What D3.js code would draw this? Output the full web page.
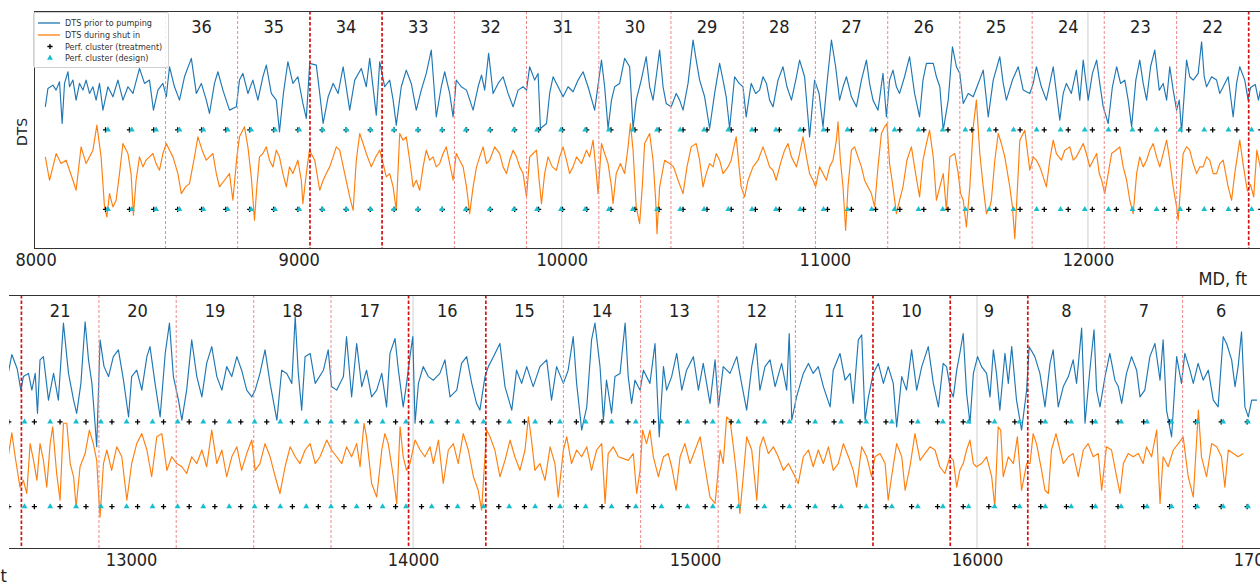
<!DOCTYPE html>
<html><head><meta charset="utf-8">
<script src="https://cdn.jsdelivr.net/npm/d3@7"></script>
<style>body{margin:0;background:#fff}svg{display:block}</style>
</head><body>
<svg id="c" width="1260" height="584"></svg>
<script>
// ---------------- DATA (depth in ft, DTS in arbitrary relative units) ----------------
const dtsPriorToPumping = [
[8037,423],[8047,478],[8066,488],[8078,473],[8091,498],[8101,373],[8110,493],[8123,528],[8129,483],[8142,503],[8154,443],[8167,493],[8180,473],[8192,503],[8205,463],[8218,483],[8230,443],[8243,493],[8256,413],[8275,483],[8294,453],[8313,503],[8332,443],[8351,483],[8370,463],[8395,538],[8414,493],[8433,503],[8448,413],[8465,473],[8484,493],[8497,453],[8509,543],[8528,483],[8547,443],[8566,513],[8592,568],[8611,463],[8630,493],[8649,443],[8661,403],[8680,493],[8693,528],[8712,473],[8737,413],[8763,423],[8775,503],[8788,523],[8807,463],[8826,503],[8845,443],[8864,513],[8877,548],[8896,463],[8915,443],[8927,348],[8942,463],[8959,558],[8978,493],[8997,513],[9016,433],[9029,388],
[9042,553],[9067,548],[9080,463],[9093,373],[9112,453],[9131,493],[9150,463],[9169,543],[9194,413],[9213,503],[9238,538],[9257,483],[9270,568],[9295,398],[9308,558],[9327,483],[9346,503],[9359,443],[9371,368],[9390,483],[9409,533],[9428,493],[9447,413],[9466,473],[9485,523],[9504,593],[9523,393],[9542,483],[9555,528],[9574,463],[9587,393],[9599,503],[9618,483],[9638,473],[9663,413],[9682,483],[9695,518],[9707,473],[9722,583],[9739,463],[9758,493],[9777,513],[9796,463],[9815,423],[9834,473],[9853,483],[9866,473],[9878,543],[9897,503],[9910,523],[9919,358],[9942,373],[9954,463],[9967,513],[9986,483],[10005,453],[10024,483],[10043,468],[10062,503],[10081,528],[10100,483],[10125,413],[10151,563],[10163,483],[10176,358],[10189,443],[10201,483],
[10220,493],[10239,568],[10258,543],[10271,358],[10283,443],[10302,503],[10321,573],[10334,483],[10347,443],[10359,513],[10372,593],[10385,483],[10397,433],[10416,423],[10435,463],[10448,443],[10461,413],[10480,493],[10499,623],[10511,563],[10524,503],[10543,453],[10562,358],[10581,463],[10600,553],[10613,503],[10625,453],[10638,358],[10657,513],[10674,493],[10689,483],[10701,393],[10720,493],[10737,463],[10752,473],[10765,513],[10778,493],[10790,443],[10803,423],[10822,503],[10841,543],[10856,483],[10873,443],[10892,513],[10904,563],[10923,513],[10942,333],[10961,503],[10978,463],[10993,363],[11008,493],[11025,623],[11041,543],[11056,443],[11069,483],[11082,513],[11101,453],[11120,423],[11139,503],[11158,563],[11170,493],[11183,443],[11202,413],[11221,523],[11234,393],[11246,503],[11259,533],[11272,483],[11284,463],[11303,513],[11322,573],[11341,463],[11360,393],[11373,503],[11386,553],
[11412,553],[11424,513],[11437,483],[11450,353],[11469,443],[11485,603],[11500,543],[11513,523],[11526,433],[11545,463],[11564,453],[11583,493],[11602,533],[11621,393],[11640,503],[11665,573],[11678,493],[11690,443],[11713,503],[11735,543],[11754,473],[11779,463],[11792,493],[11804,543],[11823,483],[11842,443],[11868,543],[11893,383],[11906,463],[11918,493],[11937,463],[11956,533],[11969,443],[11982,563],[12001,443],[12017,523],[12033,563],[12045,493],[12058,423],[12077,373],[12093,483],[12109,543],[12124,493],[12140,503],[12153,443],[12166,363],[12182,503],[12197,563],[12210,493],[12223,443],[12238,543],[12254,593],[12271,473],[12286,493],[12299,443],[12311,543],[12324,473],[12337,413],[12347,443],[12356,348],[12375,563],[12387,513],[12400,503],[12419,523],[12432,618],[12442,513],[12451,483],[12470,513],[12489,503],[12501,463],[12514,483],[12533,513],[12552,393],[12565,493],[12577,543],[12596,503],
[12609,443],[12618,481],[12636,490],[12648,443],[12660,490],[12668,378],[12677,528],[12689,537],[12707,415],[12725,490],[12742,415],[12760,631],[12778,490],[12796,415],[12807,378],[12822,462],[12837,635],[12849,528],[12861,462],[12872,350],[12878,284],[12890,584],[12904,509],[12920,481],[12937,537],[12955,556],[12973,471],[12991,368],[13002,481],[13020,499],[13038,443],[13056,537],[13067,565],[13085,462],[13103,368],[13121,546],[13136,631],[13150,481],[13168,415],[13180,359],[13197,443],[13215,584],[13233,481],[13251,424],[13268,518],[13286,565],[13304,481],[13322,443],[13339,509],[13357,481],[13375,537],[13392,499],[13410,443],[13428,424],[13440,443],[13457,490],[13475,556],[13493,462],[13517,359],[13534,499],[13552,490],[13570,462],[13582,649],[13593,490],[13605,387],[13617,537],[13635,546],[13653,462],
[13682,499],[13699,556],[13711,453],[13729,443],[13753,481],[13764,593],[13782,424],[13800,574],[13818,453],[13835,499],[13853,424],[13871,443],[13889,490],[13906,396],[13918,546],[13936,588],[13948,499],[13965,396],[13977,462],[13989,537],[13999,593],[14007,350],[14019,462],[14036,509],[14054,481],[14072,471],[14095,490],[14113,528],[14131,424],[14155,443],[14172,518],[14190,537],[14208,462],[14225,406],[14237,387],[14255,481],[14267,509],[14285,537],[14308,574],[14326,453],[14350,387],[14367,499],[14385,462],[14403,509],[14426,453],[14450,509],[14474,528],[14491,415],[14509,509],[14533,462],[14550,499],[14568,593],[14580,462],[14598,331],[14616,396],[14633,584],[14645,631],[14663,509],[14675,359],[14686,471],[14704,378],[14716,481],[14734,490],
[14752,631],[14763,481],[14775,406],[14787,471],[14805,443],[14817,499],[14840,462],[14858,574],[14873,312],[14888,509],[14899,443],[14917,481],[14935,546],[14953,443],[14970,499],[14994,537],[15012,443],[15029,518],[15053,406],[15071,528],[15083,396],[15100,509],[15124,490],[15148,537],[15165,462],[15183,387],[15201,509],[15216,574],[15230,443],[15248,509],[15266,528],[15284,453],[15307,518],[15325,443],[15334,602],[15343,359],[15360,424],[15384,490],[15402,518],[15419,490],[15437,509],[15455,453],[15479,396],[15490,499],[15514,546],[15532,471],[15550,490],[15561,406],[15579,584],[15591,598],[15603,359],[15615,424],[15632,490],[15650,518],[15668,462],[15685,509],[15703,462],[15715,340],[15733,481],[15750,443],[15768,556],[15786,443],[15804,509],[15827,565],[15845,462],
[15863,396],[15880,518],[15892,509],[15906,443],[15916,424],[15928,499],[15939,546],[15951,602],[15963,434],[15975,350],[15987,490],[16002,537],[16016,509],[16034,490],[16046,424],[16058,556],[16069,490],[16081,387],[16099,546],[16111,462],[16123,565],[16140,415],[16158,331],[16176,443],[16185,565],[16205,537],[16223,490],[16241,396],[16259,518],[16270,556],[16288,396],[16306,453],[16324,481],[16341,528],[16353,462],[16371,617],[16383,350],[16400,499],[16415,612],[16424,443],[16436,396],[16454,481],[16471,546],[16489,471],[16501,453],[16513,406],[16530,490],[16548,537],[16566,499],[16578,424],[16595,443],[16613,537],[16631,574],[16649,471],[16660,584],[16672,387],[16690,312],[16708,537],[16725,462],[16737,546],[16755,499],[16767,462],[16784,518],[16802,471],[16820,499],[16838,415],[16855,396],[16873,593],[16885,574],[16903,528],[16915,453],[16926,509],[16938,607],[16950,396],[16962,368],[16974,415],[16993,415]
];

const dtsDuringShutIn = [
[8037,273],[8053,203],[8066,243],[8078,283],[8097,253],[8116,263],[8129,233],[8142,203],[8154,173],[8173,303],[8192,253],[8205,273],[8218,293],[8233,368],[8249,273],[8262,123],[8271,93],[8281,163],[8294,123],[8306,143],[8319,223],[8332,313],[8351,283],[8363,223],[8372,98],[8382,203],[8395,273],[8408,243],[8420,263],[8433,273],[8446,283],[8458,253],[8471,233],[8484,283],[8497,313],[8509,293],[8522,273],[8541,223],[8554,163],[8570,183],[8585,193],[8604,273],[8617,333],[8633,293],[8649,263],[8661,273],[8674,283],[8687,223],[8699,183],[8718,203],[8737,223],[8750,143],[8765,273],[8775,333],[8794,363],[8807,303],[8820,213],[8832,83],[8841,183],[8851,273],[8864,283],[8877,303],[8889,263],[8902,243],[8915,293],[8927,273],[8940,223],[8953,183],[8965,243],[8978,223],[8997,263],[9010,203],[9016,133],[9029,223],[9041,293],
[9061,263],[9080,173],[9093,203],[9105,223],[9118,243],[9131,273],[9143,303],[9156,293],[9175,223],[9194,153],[9207,113],[9219,263],[9232,343],[9245,313],[9257,283],[9276,243],[9293,273],[9308,293],[9321,253],[9333,213],[9346,223],[9359,183],[9371,113],[9384,343],[9397,323],[9409,333],[9422,263],[9435,183],[9447,203],[9460,173],[9473,243],[9485,293],[9498,263],[9511,273],[9523,243],[9536,253],[9549,283],[9561,303],[9574,253],[9587,203],[9599,283],[9612,263],[9625,243],[9638,183],[9650,103],[9663,183],[9676,243],[9688,273],[9701,303],[9714,253],[9726,263],[9745,303],[9764,283],[9777,243],[9790,223],[9802,263],[9815,293],[9828,273],[9840,243],[9853,223],[9866,153],[9878,273],[9891,283],[9904,293],[9914,203],[9923,133],[9935,223],[9948,273],[9964,243],[9980,233],[9992,273],[10005,303],[10018,263],[10030,223],[10043,243],[10056,273],[10075,253],[10094,293],[10106,273],[10119,323],[10129,243],[10138,163],[10151,313],[10163,283],[10176,253],[10189,183],[10195,133],
[10207,223],[10223,253],[10239,223],[10252,303],[10261,373],[10271,293],[10283,123],[10296,73],[10306,183],[10315,313],[10334,343],[10347,263],[10357,143],[10362,43],[10372,183],[10391,263],[10410,253],[10425,243],[10442,203],[10461,163],[10476,243],[10492,303],[10511,313],[10524,263],[10537,183],[10549,223],[10562,253],[10575,243],[10587,283],[10600,263],[10613,223],[10632,243],[10644,263],[10657,313],[10663,333],[10674,243],[10682,183],[10695,153],[10708,203],[10727,243],[10746,263],[10765,303],[10778,273],[10790,243],[10803,233],[10815,203],[10831,253],[10847,293],[10860,313],[10873,273],[10892,243],[10904,283],[10917,333],[10930,273],[10942,223],[10955,203],[10965,183],[10980,243],[10993,223],[11006,203],[11018,243],[11031,263],[11044,323],[11050,378],[11059,263],[11069,183],[11079,53],[11088,183],[11101,293],[11113,303],[11126,273],[11139,243],[11151,203],[11164,183],[11177,163],[11189,123],[11202,243],[11215,343],[11227,363],[11236,373],[11246,253],[11259,183],[11272,103],[11284,143],[11297,183],[11312,263],[11329,303],[11345,223],[11360,153],[11373,263],[11386,313],[11398,353],
[11412,273],[11424,143],[11437,183],[11450,223],[11462,113],[11475,273],[11494,283],[11507,223],[11516,163],[11526,143],[11538,63],[11551,183],[11564,363],[11576,443],[11589,283],[11602,183],[11614,103],[11627,123],[11633,143],[11646,263],[11659,343],[11671,313],[11684,273],[11703,183],[11713,123],[11722,28],[11731,163],[11741,323],[11760,353],[11779,233],[11792,273],[11804,263],[11817,243],[11830,213],[11842,183],[11855,263],[11868,323],[11880,283],[11899,263],[11912,293],[11931,303],[11944,263],[11956,273],[11969,293],[11982,313],[11994,283],[12007,243],[12020,263],[12033,283],[12043,223],[12052,203],[12064,163],[12077,223],[12090,283],[12106,293],[12121,303],[12134,243],[12147,203],[12159,143],[12172,103],[12185,223],[12197,273],[12210,243],[12223,263],[12235,293],[12248,313],[12261,273],[12273,243],[12286,283],[12299,323],[12311,263],[12324,183],[12337,123],[12343,83],[12352,183],[12362,283],[12375,303],[12387,293],[12400,253],[12413,223],[12425,243],[12438,243],[12451,273],[12463,263],[12476,223],[12489,223],[12501,253],[12514,263],[12533,183],[12546,143],[12558,223],[12577,323],
[12589,256],[12600,200],[12606,171],[12618,190],[12630,153],[12642,293],[12654,246],[12666,190],[12677,293],[12689,246],[12701,171],[12713,293],[12722,340],[12736,209],[12748,134],[12760,350],[12772,350],[12784,237],[12796,200],[12805,115],[12819,228],[12837,265],[12852,331],[12866,293],[12878,246],[12884,162],[12890,87],[12902,237],[12914,275],[12931,218],[12949,284],[12967,256],[12985,134],[13002,237],[13020,293],[13038,321],[13056,275],[13073,200],[13091,312],[13109,321],[13127,218],[13144,256],[13162,237],[13180,228],[13197,209],[13215,256],[13233,237],[13251,275],[13268,228],[13286,331],[13304,237],[13322,275],[13339,200],[13357,256],[13375,284],[13392,218],[13410,265],[13428,303],[13440,218],[13457,237],[13475,293],[13493,256],[13511,200],[13528,153],[13546,228],[13564,284],[13582,256],[13599,237],[13617,275],[13635,293],[13653,237],[13670,256],
[13694,303],[13711,275],[13729,256],[13747,237],[13764,284],[13782,256],[13800,293],[13812,228],[13826,350],[13835,312],[13853,181],[13871,143],[13889,275],[13900,321],[13912,293],[13930,200],[13942,125],[13954,340],[13965,256],[13977,218],[13989,237],[14007,303],[14025,275],[14042,256],[14060,284],[14072,237],[14090,303],[14107,181],[14125,275],[14143,293],[14160,237],[14178,321],[14196,275],[14214,200],[14231,162],[14243,106],[14249,181],[14261,331],[14273,312],[14290,275],[14308,200],[14326,246],[14344,303],[14361,256],[14379,218],[14397,275],[14409,368],[14420,303],[14432,218],[14450,237],[14468,190],[14486,284],[14503,237],[14515,143],[14533,275],[14545,312],[14562,237],[14580,275],[14598,256],[14616,284],[14633,218],[14651,275],[14669,293],[14681,125],[14692,265],[14710,284],[14728,256],
[14763,246],[14781,265],[14793,153],[14805,218],[14814,331],[14828,293],[14840,331],[14852,256],[14870,200],[14888,256],[14905,265],[14917,228],[14933,162],[14947,256],[14964,293],[14982,237],[15000,275],[15018,312],[15035,228],[15053,143],[15071,125],[15089,275],[15100,237],[15112,368],[15124,359],[15136,284],[15148,200],[15159,97],[15171,200],[15183,312],[15201,275],[15219,134],[15230,284],[15242,312],[15260,265],[15278,284],[15295,256],[15313,218],[15331,237],[15349,209],[15366,181],[15384,256],[15402,275],[15419,228],[15437,275],[15455,237],[15473,284],[15490,218],[15508,237],[15526,293],[15544,256],[15561,218],[15573,171],[15591,284],[15609,256],[15626,200],[15638,256],[15656,265],[15674,237],[15685,134],[15697,200],[15715,293],[15733,256],[15745,162],[15762,228],[15780,321],[15798,246],[15815,265],[15833,284],
[15851,275],[15868,228],[15886,209],[15904,256],[15916,246],[15928,171],[15939,218],[15951,237],[15963,275],[15975,303],[15987,237],[15998,228],[16016,237],[16034,256],[16052,200],[16063,115],[16075,340],[16084,331],[16093,200],[16111,256],[16129,237],[16143,312],[16158,162],[16176,237],[16188,237],[16199,321],[16211,293],[16229,218],[16241,162],[16253,153],[16264,275],[16280,321],[16294,275],[16306,237],[16324,256],[16341,265],[16359,200],[16377,275],[16394,293],[16412,256],[16430,265],[16442,162],[16459,284],[16477,275],[16495,200],[16507,153],[16519,237],[16536,265],[16554,256],[16572,265],[16589,237],[16601,284],[16619,256],[16637,331],[16649,125],[16660,256],[16678,228],[16696,275],[16714,293],[16731,312],[16749,200],[16767,143],[16785,387],[16796,256],[16814,200],[16832,293],[16850,284],[16867,256],[16879,171],[16891,275],[16909,265],[16926,256],[16944,265]
];

// stage numbers and their shallow boundary depths (last entry = bottom of stage 6)
const stageNumbers = [36,35,34,33,32,31,30,29,28,27,26,25,24,23,22,21,20,19,18,17,16,15,14,13,12,11,10,9,8,7,6];
const stageBoundaries = [8494,8768,9043,9317,9592,9866,10141,10415,10690,10964,11239,11513,11788,12062,12337,12611,12886,13160,13435,13709,13984,14258,14533,14807,15082,15356,15631,15905,16180,16454,16729,17003];
const plugBoundaries = [9043,9317,12611,13984,14258,15631,15905,16180];

const clustersTreatment = [8266,8357,8449,8540,8631,8723,8814,8905,8997,9089,9180,9272,9363,9454,9546,9638,9729,9821,9912,10003,10095,10187,10278,10370,10461,10552,10644,10736,10827,10919,11010,11101,11193,11285,11376,11468,11559,11650,11742,11834,11925,12017,12108,12199,12291,12383,12474,12566,12657,12748,12840,12932,13023,13115,13206,13297,13389,13481,13572,13664,13755,13846,13938,14030,14121,14213,14304,14395,14487,14579,14670,14762,14853,14944,15036,15128,15219,15311,15402,15493,15585,15677,15768,15860,15951,16042,16134,16226,16317,16409,16500,16591,16683,16775,16866,16958];
const clustersDesign = [8275,8366,8458,8547,8638,8730,8819,8910,9002,9091,9182,9274,9362,9453,9545,9635,9726,9818,9906,9997,10089,10179,10270,10362,10450,10541,10633,10723,10814,10906,10995,11086,11178,11265,11356,11448,11534,11625,11717,11805,11896,11988,12078,12169,12261,12351,12442,12534,12622,12713,12805,12893,12984,13076,13165,13256,13348,13438,13529,13621,13709,13800,13892,13975,14066,14158,14250,14341,14433,14521,14612,14704,14790,14881,14973,15063,15154,15246,15335,15426,15518,15607,15698,15790,15879,15970,16062,16151,16242,16334,16420,16511,16603,16690,16781,16873,16961];
const clusterLevels = [354, 116];

const gridDepths = [10000, 12000, 14000, 16000];
const xTicks = [8000,9000,10000,11000,12000,13000,14000,15000,16000,17000];
const legendLabels = ["DTS prior to pumping","DTS during shut in","Perf. cluster (treatment)","Perf. cluster (design)"];

// ---------------- LAYOUT / STYLE ----------------
const C_BLUE = "#1f77b4", C_ORANGE = "#ff7f0e", C_CYAN = "#17becf";
const FONT = "'DejaVu Sans Condensed','DejaVu Sans',sans-serif";
const yDomain = [0, 710];
const panels = [
  { xDomain: [7994, 12692], x0: 34, x1: 1270, y0: 11, y1: 248, leftSpine: true },
  { xDomain: [12567, 17039], x0: 9, x1: 1270, y0: 295, y1: 548, leftSpine: false }
];

const svg = d3.select("#c");
const defs = svg.append("defs");
const plusPath = "M-2.6,0H2.6M0,-2.6V2.6";
const triSym = d3.symbol(d3.symbolTriangle, 15)();

panels.forEach((p, i) => {
  const x = d3.scaleLinear().domain(p.xDomain).range([p.x0, p.x1]);
  const y = d3.scaleLinear().domain(yDomain).range([p.y1, p.y0]);
  const inDom = d => d >= p.xDomain[0] && d <= p.xDomain[1];
  defs.append("clipPath").attr("id", "clip" + i).append("rect")
    .attr("x", p.x0).attr("y", p.y0).attr("width", p.x1 - p.x0).attr("height", p.y1 - p.y0);
  const g = svg.append("g");
  const plot = g.append("g").attr("clip-path", `url(#clip${i})`);

  plot.selectAll("line.grid").data(gridDepths.filter(inDom)).join("line")
    .attr("x1", d => x(d)).attr("x2", d => x(d)).attr("y1", p.y0).attr("y2", p.y1)
    .attr("stroke", "#cfcfcf").attr("stroke-width", 1);

  const line = d3.line().x(d => x(d[0])).y(d => y(d[1]));
  plot.append("path").datum(dtsPriorToPumping).attr("d", line)
    .attr("fill", "none").attr("stroke", C_BLUE).attr("stroke-width", 1.15).attr("stroke-linejoin", "round");
  plot.append("path").datum(dtsDuringShutIn).attr("d", line)
    .attr("fill", "none").attr("stroke", C_ORANGE).attr("stroke-width", 1.15).attr("stroke-linejoin", "round");

  const bounds = stageBoundaries.slice(0, -1).filter(inDom);
  plot.selectAll("line.stage").data(bounds).join("line")
    .attr("x1", d => x(d)).attr("x2", d => x(d)).attr("y1", p.y0).attr("y2", p.y1)
    .attr("stroke", d => plugBoundaries.includes(d) ? "#d41414" : "#ee8a8a")
    .attr("stroke-width", d => plugBoundaries.includes(d) ? 1.7 : 1)
    .attr("stroke-dasharray", d => plugBoundaries.includes(d) ? "3.5,2" : "3,2");

  clusterLevels.forEach(lv => {
    plot.append("g").selectAll("path").data(clustersTreatment).join("path")
      .attr("d", plusPath).attr("transform", d => `translate(${x(d)},${y(lv)})`)
      .attr("stroke", "#000").attr("stroke-width", 1.3).attr("fill", "none");
    plot.append("g").selectAll("path").data(clustersDesign).join("path")
      .attr("d", triSym).attr("transform", d => `translate(${x(d)},${y(lv)})`)
      .attr("fill", C_CYAN);
  });

  // stage numbers
  const labels = stageNumbers.map((s, k) => ({ s, c: (stageBoundaries[k] + stageBoundaries[k + 1]) / 2 }))
    .filter(o => inDom(o.c));
  g.selectAll("text.stage").data(labels).join("text")
    .attr("x", o => x(o.c)).attr("y", p.y0 + 21.5).attr("text-anchor", "middle")
    .attr("font-family", FONT).attr("font-stretch", "condensed").attr("font-size", 18).attr("fill", "#222")
    .text(o => o.s);

  // spines
  const sp = g.append("g").attr("stroke", "#333").attr("stroke-width", 1);
  sp.append("line").attr("x1", p.x0).attr("x2", p.x1).attr("y1", p.y0 + 0.5).attr("y2", p.y0 + 0.5);
  sp.append("line").attr("x1", p.x0).attr("x2", p.x1).attr("y1", p.y1 + 0.5).attr("y2", p.y1 + 0.5);
  if (p.leftSpine) sp.append("line").attr("x1", p.x0 + 0.5).attr("x2", p.x0 + 0.5).attr("y1", p.y0).attr("y2", p.y1);

  // x axis
  const ax = d3.axisBottom(x).tickValues(xTicks.filter(inDom)).tickSize(0).tickPadding(5).tickFormat(d3.format("d"));
  const axg = g.append("g").attr("transform", `translate(0,${p.y1})`).call(ax);
  axg.select(".domain").remove();
  axg.selectAll("text").attr("font-family", FONT).attr("font-stretch", "condensed").attr("font-size", 18).attr("fill", "#222");
});

// axis titles
svg.append("text").attr("transform", "translate(27,132) rotate(-90)").attr("text-anchor", "middle")
  .attr("font-family", "'DejaVu Sans',sans-serif").attr("font-size", 14).attr("fill", "#222").text("DTS");
svg.append("text").attr("x", 1247).attr("y", 285).attr("text-anchor", "end")
  .attr("font-family", FONT).attr("font-stretch", "condensed").attr("font-size", 18).attr("fill", "#222").text("MD, ft");
svg.append("text").attr("x", 0.5).attr("y", 582)
  .attr("font-family", FONT).attr("font-stretch", "condensed").attr("font-size", 18).attr("fill", "#222").text("t");

// legend
const lg = svg.append("g");
lg.append("rect").attr("x", 33.5).attr("y", 12.5).attr("width", 135).attr("height", 55).attr("rx", 2)
  .attr("fill", "#fff").attr("fill-opacity", 0.85).attr("stroke", "#d0d0d0");
const ly = [23, 35, 46.5, 58];
lg.append("line").attr("x1", 38).attr("x2", 60).attr("y1", ly[0]).attr("y2", ly[0]).attr("stroke", C_BLUE).attr("stroke-width", 1.3);
lg.append("line").attr("x1", 38).attr("x2", 60).attr("y1", ly[1]).attr("y2", ly[1]).attr("stroke", C_ORANGE).attr("stroke-width", 1.3);
lg.append("path").attr("d", plusPath).attr("transform", `translate(50,${ly[2]})`).attr("stroke", "#000").attr("stroke-width", 1.3);
lg.append("path").attr("d", triSym).attr("transform", `translate(50,${ly[3]})`).attr("fill", C_CYAN);
lg.selectAll("text").data(legendLabels).join("text")
  .attr("x", 65).attr("y", (d, k) => ly[k] + 3.2)
  .attr("font-family", FONT).attr("font-stretch", "condensed").attr("font-size", 9).attr("fill", "#333")
  .text(d => d);
</script>
</body></html>
